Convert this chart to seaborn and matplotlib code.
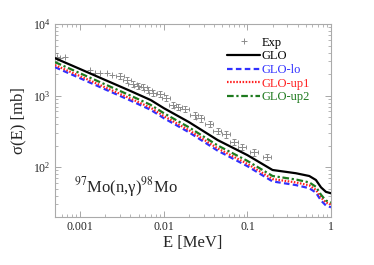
import pandas as pd
import seaborn as sns
import matplotlib.pyplot as plt
from matplotlib.lines import Line2D
from matplotlib.ticker import FixedLocator, FixedFormatter, LogLocator, NullFormatter

# model curves (E in MeV, sigma in mb)
energy = [0.0005, 0.001, 0.002, 0.004, 0.007, 0.01, 0.02, 0.044, 0.1, 0.2, 0.38, 0.55, 0.66, 0.76, 0.87, 1.0]
glo = [3340, 2350, 1650, 1160, 865, 668, 426, 239, 147, 91, 82, 75, 66, 52, 45, 43]
glo_up2 = [2940, 2050, 1430, 1000, 740, 568, 360, 201, 122, 75, 67, 61, 53, 41, 34, 32]
glo_up1 = [2670, 1870, 1300, 910, 675, 518, 328, 183, 111, 68, 61, 55.5, 48, 37.5, 32, 30]
glo_lo = [2500, 1750, 1220, 853, 631, 484, 307, 170, 103, 63, 56, 50.6, 44, 34, 29, 27.4]

# experimental points
exp_e = [0.000504, 0.000532, 0.000578, 0.000662, 0.00132, 0.00151, 0.00173, 0.00209, 0.0024, 0.003,
         0.00363, 0.00428, 0.0049, 0.00562, 0.00645, 0.0074, 0.009, 0.0106, 0.0128, 0.0147,
         0.0178, 0.0234, 0.0276, 0.0353, 0.044, 0.0562, 0.07, 0.0871, 0.121, 0.173]
exp_sig = [3930, 3450, 3340, 3450, 2275, 2065, 2065, 2065, 1936, 1875,
           1650, 1450, 1360, 1316, 1194, 1084, 1050, 923, 736, 690,
           647, 533, 484, 399, 319, 289, 224, 191, 162, 138]
exp_de = [0, 0, 0, 0, 0, 0, 0, 0, 0, 0.0003,
          0.0004, 0.0005, 0.0005, 0.0006, 0.0007, 0.0008, 0.001, 0.0012, 0.0014, 0.0016,
          0.002, 0.0026, 0.003, 0.004, 0.005, 0.006, 0.008, 0.01, 0.013, 0.019]
exp_ds = [0, 0, 0, 0, 0, 0, 0, 0, 0, 190,
          170, 150, 140, 135, 120, 110, 105, 95, 75, 70,
          65, 55, 50, 40, 33, 30, 23, 20, 17, 14]

xticks = [0.001, 0.01, 0.1, 1]
xticklabels = ['0.001', '0.01', '0.1', '1']

sns.set_style('ticks')
plt.rcParams['font.family'] = ['Liberation Serif', 'DejaVu Serif']
plt.rcParams['mathtext.fontset'] = 'stix'

df = pd.DataFrame({'E': energy, 'GLO': glo, 'GLO-lo': glo_lo,
                   'GLO-up1': glo_up1, 'GLO-up2': glo_up2})

fig = plt.figure(figsize=(3.74, 2.65), dpi=100)
ax = fig.add_axes([0.147, 0.181, 0.738, 0.728])

ax.errorbar(exp_e, exp_sig, xerr=exp_de, yerr=exp_ds, fmt='+', color='#8c8c8c',
            ms=4.5, mew=0.7, elinewidth=0.6, capsize=1.5, capthick=0.6, zorder=2)

curves = [('GLO', 'black', (None, None)),
          ('GLO-lo', '#3030ff', (2.5, 1.5)),
          ('GLO-up1', '#ff2020', (0.7, 0.7)),
          ('GLO-up2', '#1e7a1e', (3, 1.2, 1, 1.2))]
handles = [Line2D([], [], ls='none', marker='+', ms=4.5, mew=0.7, color='#8c8c8c')]
labels = ['Exp']
for name, col, dash in curves:
    sns.lineplot(data=df, x='E', y=name, ax=ax, color=col, lw=1.6, zorder=3)
    if dash[0] is not None:
        ax.lines[-1].set_dashes(dash)
    handles.append(ax.lines[-1])
    labels.append(name)

ax.set_xscale('log')
ax.set_yscale('log')
ax.set_xlim(0.0005, 1)
ax.set_ylim(20, 1e4)

ax.xaxis.set_major_locator(FixedLocator(xticks))
ax.xaxis.set_major_formatter(FixedFormatter(xticklabels))
ax.xaxis.set_minor_locator(LogLocator(base=10, subs=range(2, 10)))
ax.xaxis.set_minor_formatter(NullFormatter())
ax.yaxis.set_minor_locator(LogLocator(base=10, subs=range(2, 10)))
ax.yaxis.set_minor_formatter(NullFormatter())

ax.tick_params(which='both', direction='in', top=True, right=True, color='#999999',
               labelsize=8.5, pad=3)
ax.tick_params(which='major', length=4, width=0.6)
ax.tick_params(which='minor', length=2, width=0.5)
for s in ax.spines.values():
    s.set_color('#aaaaaa')
    s.set_linewidth(0.8)

ax.set_xlabel('E [MeV]', fontsize=12, labelpad=1)
ax.set_ylabel('σ(E) [mb]', fontsize=12, labelpad=5)

ax.text(0.07, 0.13, r'$^{97}$Mo(n,γ)$^{98}$Mo', transform=ax.transAxes, fontsize=12)

leg = ax.legend(handles, labels, loc='upper left',
                bbox_to_anchor=(0.625, 0.935), frameon=False, fontsize=9,
                handlelength=2.6, handletextpad=0.1, labelspacing=0.13,
                borderpad=0, borderaxespad=0)
for t, c in zip(leg.get_texts(), ['black', 'black', '#3030ff', '#ff2020', '#1e7a1e']):
    t.set_color(c)

fig.savefig('out.png', dpi=100)
